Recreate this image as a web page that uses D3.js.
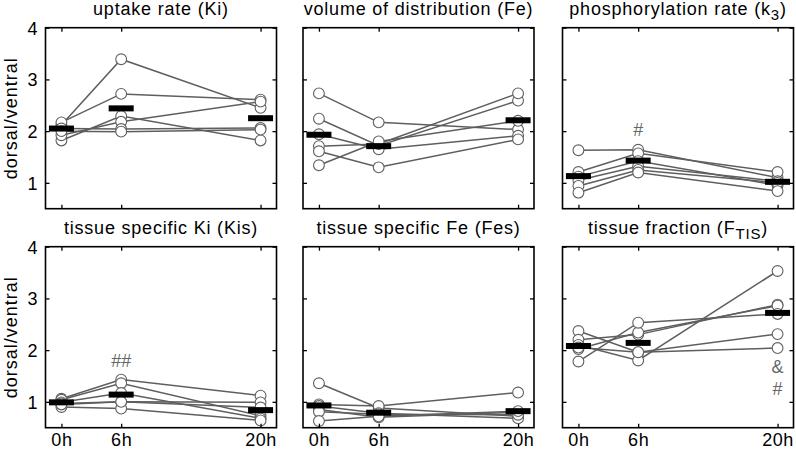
<!DOCTYPE html>
<html><head><meta charset="utf-8">
<script src="https://cdn.jsdelivr.net/npm/d3@7"></script>
<style>body{margin:0;background:#fff}svg{display:block}</style>
</head><body>
<svg id="chart" width="796" height="455"></svg>
<script>
// ---- data (dorsal/ventral ratios, 6 subjects x [0h, 6h, 20h]) ----
const times = [0, 6, 20];
const timeLabels = ["0h", "6h", "20h"];
const yTickValues = [1, 2, 3, 4];

const uptakeKi = [
  [2.12, 3.39, 2.45],
  [2.17, 2.72, 2.61],
  [1.82, 2.29, 1.82],
  [1.92, 2.18, 2.57],
  [2.05, 2.04, 2.06],
  [2.00, 1.99, 2.03]
];
const meanKi = [2.05, 2.44, 2.25];

const volumeFe = [
  [2.73, 2.17, 2.03],
  [2.24, 1.72, 2.59],
  [1.94, 1.65, 1.91],
  [1.71, 1.75, 2.73],
  [1.61, 1.30, 1.84],
  [1.34, 1.80, 2.20]
];
const meanFe = [1.93, 1.71, 2.21];

const phosK3 = [
  [1.63, 1.64, 1.10],
  [1.21, 1.57, 1.21],
  [1.12, 1.42, 0.95],
  [1.05, 1.32, 1.03],
  [0.94, 1.25, 1.00],
  [0.81, 1.20, 0.84]
];
const meanK3 = [1.13, 1.43, 1.02];

const tissueKis = [
  [1.06, 1.43, 1.12],
  [1.04, 1.36, 0.73],
  [0.99, 1.17, 0.68],
  [0.97, 1.00, 0.99],
  [0.90, 0.87, 0.64],
  [0.95, 1.00, 0.89]
];
const meanKis = [0.99, 1.14, 0.84];

const tissueFes = [
  [1.36, 0.88, 0.72],
  [0.95, 0.92, 1.18],
  [0.92, 0.78, 0.68],
  [0.85, 0.70, 0.80],
  [0.81, 0.76, 0.75],
  [0.63, 0.72, 0.82]
];
const meanFes = [0.93, 0.79, 0.82];

const tissueFtis = [
  [2.37, 1.96, 2.04],
  [2.20, 2.30, 2.88],
  [2.10, 1.80, 3.53],
  [2.02, 2.34, 2.86],
  [1.78, 2.53, 2.70],
  [2.05, 1.96, 2.31]
];
const meanFtis = [2.08, 2.14, 2.72];

const titles = [
  ["uptake rate (Ki)", ""],
  ["volume of distribution (Fe)", ""],
  ["phosphorylation rate (k", "3", ")"],
  ["tissue specific Ki (Kis)", ""],
  ["tissue specific Fe (Fes)", ""],
  ["tissue fraction (F", "TIS", ")"]
];
// annotations: [panelIndex, time, value, text]
const annotations = [
  [2, 6, 2.03, "#"],
  [3, 6, 1.80, "##"],
  [5, 20, 1.67, "&"],
  [5, 20, 1.25, "#"]
];

const panelSeries = [uptakeKi, volumeFe, phosK3, tissueKis, tissueFes, tissueFtis];
const panelMeans = [meanKi, meanFe, meanK3, meanKis, meanFes, meanFtis];

// ---- layout ----
const svg = d3.select("#chart");
const lefts = [45.5, 303, 562.5];
const tops = [27.7, 246.7];
const pw = 231, ph = 181;
const font = "Liberation Sans, Arial, sans-serif";

const x = d3.scaleLinear().domain([-1.6, 21.6]).range([0, pw]);
const y = d3.scaleLinear().domain([0.5, 4]).range([ph, 0]);

const lineColor = "#5e5e5e";
const markerColor = "#606060";

panelSeries.forEach((series, i) => {
  const col = i % 3, row = Math.floor(i / 3);
  const g = svg.append("g").attr("transform", `translate(${lefts[col]},${tops[row]})`);

  // lines
  const line = d3.line().x((d, j) => x(times[j])).y(d => y(d));
  g.selectAll("path.subj").data(series).enter().append("path")
    .attr("class", "subj")
    .attr("d", line)
    .attr("fill", "none")
    .attr("stroke", lineColor)
    .attr("stroke-width", 1.5);

  // markers
  series.forEach(s => {
    g.selectAll(null).data(s).enter().append("circle")
      .attr("cx", (d, j) => x(times[j]))
      .attr("cy", d => y(d))
      .attr("r", 5.4)
      .attr("fill", "#fff")
      .attr("stroke", markerColor)
      .attr("stroke-width", 1.1);
  });

  // mean bars
  g.selectAll("rect.mean").data(panelMeans[i]).enter().append("rect")
    .attr("class", "mean")
    .attr("x", (d, j) => x(times[j]) - 12.5)
    .attr("y", d => y(d) - 3)
    .attr("width", 25)
    .attr("height", 6)
    .attr("fill", "#000");

  // axes (ticks inward, box style)
  const tickLen = 4;
  const axB = g.append("g").attr("transform", `translate(0,${ph})`)
    .call(d3.axisBottom(x).tickValues(times).tickSize(-tickLen).tickSizeOuter(0)
      .tickFormat((d, j) => row === 1 ? timeLabels[j] : ""));
  const axT = g.append("g")
    .call(d3.axisTop(x).tickValues(times).tickSize(-tickLen).tickSizeOuter(0).tickFormat(""));
  const axL = g.append("g")
    .call(d3.axisLeft(y).tickValues(yTickValues).tickSize(-tickLen).tickSizeOuter(0)
      .tickFormat(d => col === 0 ? d : ""));
  const axR = g.append("g").attr("transform", `translate(${pw},0)`)
    .call(d3.axisRight(y).tickValues(yTickValues).tickSize(-tickLen).tickSizeOuter(0).tickFormat(""));
  [axB, axT, axL, axR].forEach(a => {
    a.select(".domain").remove();
    a.selectAll(".tick line").attr("stroke", "#000").attr("stroke-width", 1.3);
    a.selectAll("text").attr("font-family", font).attr("font-size", 18).attr("fill", "#000");
  });
  axB.selectAll("text").attr("y", 6).attr("dy", "0.71em").attr("letter-spacing", 0.6);
  axL.selectAll("text").attr("x", -8).attr("dy", "0.35em");

  // box
  g.append("rect").attr("x", 0).attr("y", 0).attr("width", pw).attr("height", ph)
    .attr("fill", "none").attr("stroke", "#000").attr("stroke-width", 1.6);

  // title
  const t = titles[i];
  const tt = g.append("text").attr("x", pw / 2).attr("y", -13)
    .attr("text-anchor", "middle").attr("font-family", font).attr("font-size", 18)
    .attr("letter-spacing", 0.8).attr("fill", "#000");
  tt.append("tspan").text(t[0]);
  if (t.length === 3) {
    tt.append("tspan").attr("dy", 5).attr("font-size", 15).text(t[1]);
    tt.append("tspan").attr("dy", -5).text(t[2]);
  }

  // y label
  if (col === 0) {
    g.append("text")
      .attr("transform", `translate(-28.5,${ph / 2}) rotate(-90)`)
      .attr("text-anchor", "middle").attr("font-family", font).attr("font-size", 18)
      .attr("letter-spacing", 1).attr("fill", "#000").text("dorsal/ventral");
  }
});

// annotations
annotations.forEach(([p, tm, v, txt]) => {
  const col = p % 3, row = Math.floor(p / 3);
  svg.append("text")
    .attr("x", lefts[col] + x(tm)).attr("y", tops[row] + y(v))
    .attr("dy", "0.35em")
    .attr("text-anchor", "middle").attr("font-family", font).attr("font-size", 18)
    .attr("fill", "#666").text(txt);
});
</script>
</body></html>
